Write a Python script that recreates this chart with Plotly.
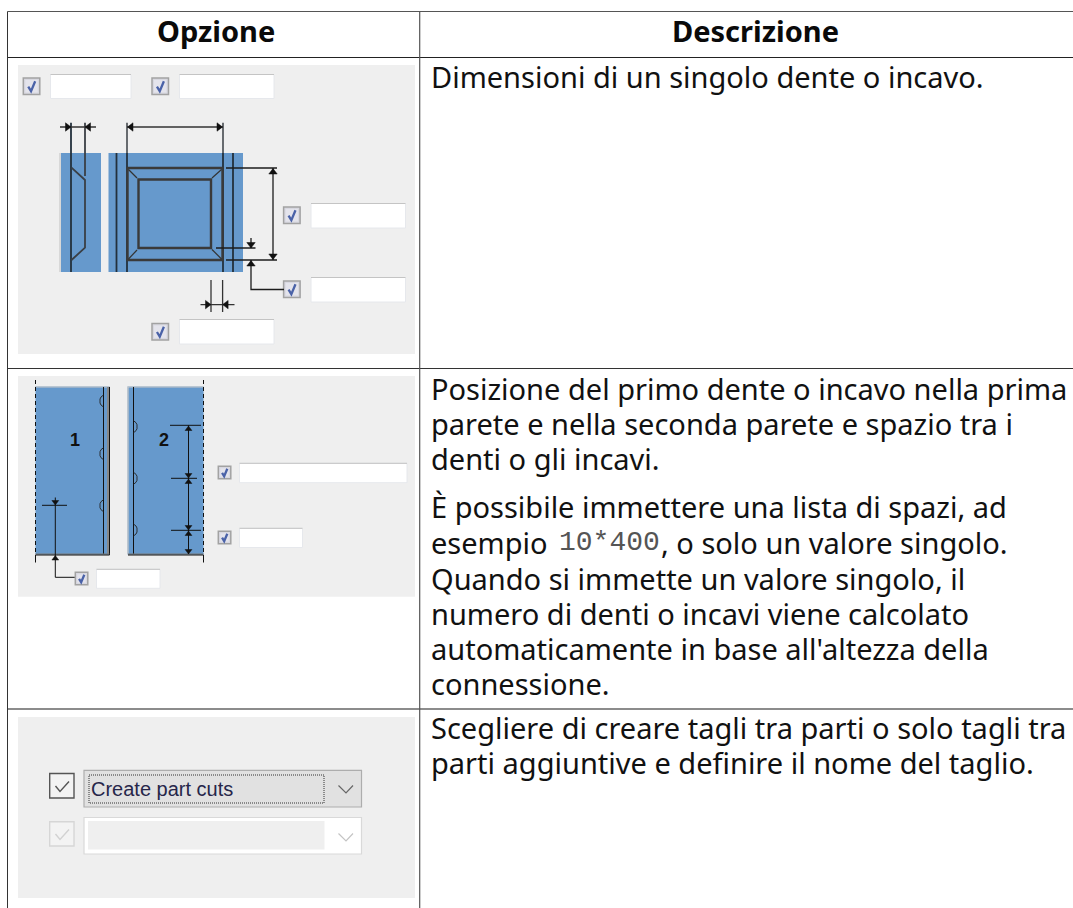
import plotly.graph_objects as go

HEADERS = ["Opzione", "Descrizione"]
ROW1_LINES = ["Dimensioni di un singolo dente o incavo."]
ROW2_LINES = ["Posizione del primo dente o incavo nella prima",
              "parete e nella seconda parete e spazio tra i",
              "denti o gli incavi."]
ROW2_PARA = ["È possibile immettere una lista di spazi, ad",
             "esempio",
             "Quando si immette un valore singolo, il",
             "numero di denti o incavi viene calcolato",
             "automaticamente in base all'altezza della",
             "connessione."]
CODE_TEXT = "10*400"
AFTER_CODE = ", o solo un valore singolo."
ROW3_LINES = ["Scegliere di creare tagli tra parti o solo tagli tra",
              "parti aggiuntive e definire il nome del taglio."]
COMBO_TEXT = "Create part cuts"
PART_NUMBERS = ["1", "2"]

FONT = "Noto Sans"
SIZE = 29
INK = "#111111"
BLUE = "#6699cc"
PANEL = "#efefef"
shapes = []
ann = []


def rect(x0, y0, x1, y1, fill=None, line=None, w=1):
    shapes.append(dict(type="rect", xref="x", yref="y", x0=x0, y0=y0, x1=x1, y1=y1,
                       fillcolor=fill or "rgba(0,0,0,0)",
                       line=dict(color=line or "rgba(0,0,0,0)", width=w if line else 0)))


def seg(x0, y0, x1, y1, color="#1c1c1c", w=1.0, dash="solid"):
    shapes.append(dict(type="line", xref="x", yref="y", x0=x0, y0=y0, x1=x1, y1=y1,
                       line=dict(color=color, width=w, dash=dash)))


def path(points, fill=None, color="#1c1c1c", w=1.0, close=False):
    d = "M " + " L ".join(f"{x},{y}" for x, y in points) + (" Z" if close else "")
    shapes.append(dict(type="path", xref="x", yref="y", path=d,
                       fillcolor=fill or "rgba(0,0,0,0)",
                       line=dict(color=color, width=w)))


def arrow(x, y, direction, size=5.5, half=4.2):
    if direction == "r":
        pts = [(x, y), (x - size, y - half), (x - size, y + half)]
    elif direction == "l":
        pts = [(x, y), (x + size, y - half), (x + size, y + half)]
    elif direction == "d":
        pts = [(x, y), (x - half, y - size), (x + half, y - size)]
    else:
        pts = [(x, y), (x - half, y + size), (x + half, y + size)]
    path(pts, fill="#111111", color="#111111", w=0.5, close=True)


def check(x0, y0, s=16.5):
    rect(x0, y0, x0 + s, y0 + s, fill="#d8d8e0", line="#a2a2a2", w=1.5)
    rect(x0 + 2, y0 + 2, x0 + s - 2, y0 + s - 2, fill="#e4e4ec")
    path([(x0 + s * .3, y0 + s * .52), (x0 + s * .47, y0 + s * .8), (x0 + s * .72, y0 + s * .2)],
         color="#4a62a8", w=2.3)


def field(x0, y0, x1, y1):
    rect(x0, y0, x1, y1, fill="#ffffff", line="#e6e8ec", w=1)
    seg(x0, y0, x1, y0, color="#c4c4c4", w=1)


def text(x, y, s, size=SIZE, font=FONT, color=INK, anchor="left", bold=False):
    if bold:
        s = f"<b>{s}</b>"
    ann.append(dict(xref="x", yref="y", x=x, y=y, text=s, showarrow=False, xanchor=anchor,
                    yanchor="middle", align="left", borderpad=0,
                    font=dict(family=font, size=size, color=color)))


# --- Table frame
seg(7.5, 11.5, 1073, 11.5, color="#555555", w=1.2)
seg(7.5, 57.5, 1073, 57.5, color="#222222", w=1.0)
seg(7.5, 368.5, 1073, 368.5, color="#333333", w=1.2)
seg(7.5, 709, 1073, 709, color="#666666", w=1.4)
seg(7.5, 11.5, 7.5, 908, color="#333333", w=1.0)
seg(419.7, 11.5, 419.7, 908, color="#555555", w=1.2)

# --- Panel 1
rect(18, 65, 415, 354, fill=PANEL)
check(23.3, 78)
check(152, 78)
check(283.6, 207)
check(283.6, 281)
check(152, 323.4)
field(50.5, 74.5, 131, 98.5)
field(179.5, 74.5, 274, 98.5)
field(311, 203.5, 405.5, 228)
field(311, 277.5, 405.5, 302)
field(179.5, 319.5, 274, 344)

rect(59, 153, 61, 272, fill="#d8d8d8")
rect(61, 153, 101, 272, fill=BLUE)
rect(108.5, 153, 243, 272, fill=BLUE)
DK = "#23303c"
seg(71, 122.7, 71, 272, color=DK, w=1.8)
seg(85, 122.7, 85, 176, color="#3a3f45", w=1.8)
path([(71.5, 167.7), (85, 180), (85, 247.7), (71.5, 260)], color="#3a3f45", w=1.8)
seg(60, 127, 96, 127, w=1.4, color="#333333")
arrow(71, 127, "r")
arrow(85, 127, "l")
for vx in (116.5, 127, 223, 233):
    seg(vx, 153, vx, 272, color=DK, w=1.8)
seg(127, 122.7, 127, 153, color="#3a3f45", w=1.5)
seg(223, 122.7, 223, 153, color="#3a3f45", w=1.5)
seg(127, 127, 223, 127, w=1.4, color="#333333")
arrow(127.5, 127, "l")
arrow(222.5, 127, "r")
rect(127.5, 168, 222.5, 260, line="#3a3a3a", w=2.4)
rect(138.5, 179.5, 211, 248, line="#3a3a3a", w=2.4)
seg(128.5, 169.5, 137, 178, w=1.2, color="#333333")
seg(221.5, 169.5, 212, 178, w=1.2, color="#333333")
seg(128.5, 259, 137, 250, w=1.2, color="#333333")
seg(221.5, 259, 212, 249.5, w=1.2, color="#333333")
seg(226, 168, 277, 168, w=1.3)
seg(226, 260, 277, 260, w=1.3)
seg(273, 168, 273, 260, w=1.3)
arrow(273, 168.5, "u")
arrow(273, 259.5, "d")
seg(216, 248, 255.5, 248, w=1.3)
seg(251, 238, 251, 248, w=1.3)
path([(251, 260), (251, 289.5), (284, 289.5)], w=1.3)
arrow(251, 248, "d")
arrow(251, 260.5, "u")
seg(211, 280, 211, 312, w=1.3, color="#333333")
seg(222.6, 280, 222.6, 312, w=1.3, color="#333333")
seg(200.5, 304.6, 234.5, 304.6, w=1.3, color="#333333")
arrow(211, 304.6, "r")
arrow(222.6, 304.6, "l")

# --- Panel 2
rect(18, 376, 415, 596.7, fill=PANEL)
rect(35.5, 386.5, 109.5, 554.5, fill=BLUE)
rect(127.5, 386.5, 203.5, 554.5, fill=BLUE)
seg(35.5, 387, 109.5, 387, color="#c8c8c8", w=1.2)
seg(127.5, 387, 203.5, 387, color="#c8c8c8", w=1.2)
seg(128, 387, 128, 554, color="#c8c8c8", w=1.2)
seg(108, 387, 108, 554, color="#888888", w=2)
seg(109.5, 387, 109.5, 555, color="#111111", w=1)
seg(103.5, 387, 103.5, 554, color="#111111", w=1)
seg(133.5, 387, 133.5, 554, color="#111111", w=1)
seg(35.5, 554, 109.5, 554, color="#777777", w=1)
seg(128, 554, 203.5, 554, color="#777777", w=1)
seg(35.5, 555, 109.5, 555, color="#111111", w=1)
seg(128, 555, 203.5, 555, color="#111111", w=1)
for vx in (35.5, 203.5):
    seg(vx, 380, vx, 555, color="#111111", w=1, dash="4px,3px")
    seg(vx, 555, vx, 562.5, color="#111111", w=1)
for cy in (401, 453.7, 505.7):
    path([(103.5, cy - 6), (101, cy - 4), (100, cy - 2), (100, cy + 2), (101, cy + 4), (103.5, cy + 6)],
         color="#222222", w=0.9)
for cy in (426.7, 478.3, 530):
    path([(133.5, cy - 6), (136, cy - 4), (137, cy - 2), (137, cy + 2), (136, cy + 4), (133.5, cy + 6)],
         color="#222222", w=0.9)
seg(170, 425.3, 201, 425.3, color="#111111", w=1)
seg(171, 478.3, 197, 478.3, color="#111111", w=1)
seg(171, 530.3, 201, 530.3, color="#111111", w=1)
seg(188.5, 425.3, 188.5, 554, color="#111111", w=1)
for ay, d in ((426, "u"), (478, "d"), (479, "u"), (530, "d"), (531, "u"), (554, "d")):
    arrow(188.5, ay, d, size=4.5, half=3.4)
seg(42, 505.3, 67, 505.3, color="#111111", w=1)
seg(55.3, 497.5, 55.3, 505.3, color="#111111", w=1)
path([(55.3, 505.3), (55.3, 577.3), (75, 577.3)], color="#111111", w=1)
arrow(55.3, 505, "d", size=4.5, half=3.4)
arrow(55.3, 555.5, "u", size=4.5, half=3.4)
text(75, 439.7, PART_NUMBERS[0], size=18, font="Liberation Sans", color="#111111", anchor="center", bold=True)
text(163.5, 439.7, PART_NUMBERS[1], size=18, font="Liberation Sans", color="#111111", anchor="center", bold=True)
check(218.3, 466.3, s=12.5)
check(218.3, 531.2, s=12.5)
check(75.3, 572.3, s=12.5)
field(239.5, 463.3, 407, 482.7)
field(239.5, 528.3, 302.5, 547.5)
field(96.5, 569.3, 160, 588.3)

# --- Panel 3
rect(18, 717, 415, 898, fill=PANEL)
rect(49.7, 773.5, 74, 798, fill="#f3f3f3", line="#555555", w=1.4)
path([(55.5, 786), (60, 791.5), (69, 781.5)], color="#555555", w=1.4)
rect(84, 770.3, 361.5, 807, fill="#e1e1e1", line="#adadad", w=1.2)
rect(89, 775, 324, 803, line="#333333", w=1)
shapes[-1]["line"]["dash"] = "1px,1px"
text(89.5, 789, COMBO_TEXT, size=20, font="Liberation Sans", color="#26264a")
path([(338.5, 785.5), (346, 793), (353, 785.5)], color="#666666", w=1.2)
rect(49.7, 821.7, 74, 846, fill="#f3f3f3", line="#d6d6d6", w=1.4)
path([(55.5, 834), (60, 839.5), (69, 829.5)], color="#d2d2d2", w=1.4)
rect(84, 817.5, 361.5, 854, fill="#ffffff", line="#d9d9d9", w=1.2)
rect(88, 821, 324.5, 849.5, fill="#efefef")
path([(338.5, 833.5), (346, 841), (353, 833.5)], color="#c4c4c4", w=1.2)

# --- Text
text(216, 30.5, HEADERS[0], anchor="center", bold=True, color="#0a0a0a")
text(755, 30.5, HEADERS[1], anchor="center", bold=True, color="#0a0a0a")
for y, s in zip([76.5], ROW1_LINES):
    text(430, y, s)
for y, s in zip([388.5, 423.5, 458.5], ROW2_LINES):
    text(430, y, s)
for y, s in zip([506.5, 542.5, 578.5, 613.5, 648.5, 683.5], ROW2_PARA):
    text(430, y, s)
text(557.5, 542.5, CODE_TEXT, size=28, font="Liberation Mono", color="#555555")
text(659.5, 542.5, AFTER_CODE)
for y, s in zip([727.5, 762.5], ROW3_LINES):
    text(430, y, s)

fig = go.Figure()
fig.add_trace(go.Scatter(x=[], y=[], hoverinfo="skip"))
fig.update_layout(
    width=1073, height=908, margin=dict(l=0, r=0, t=0, b=0),
    paper_bgcolor="#ffffff", plot_bgcolor="#ffffff", showlegend=False,
    xaxis=dict(range=[0, 1073], visible=False, fixedrange=True),
    yaxis=dict(range=[908, 0], visible=False, fixedrange=True),
    shapes=shapes, annotations=ann,
)
fig.write_html("out.html", config=dict(displayModeBar=False),
               post_script="document.body.style.margin='0';document.body.style.overflow='hidden';")
